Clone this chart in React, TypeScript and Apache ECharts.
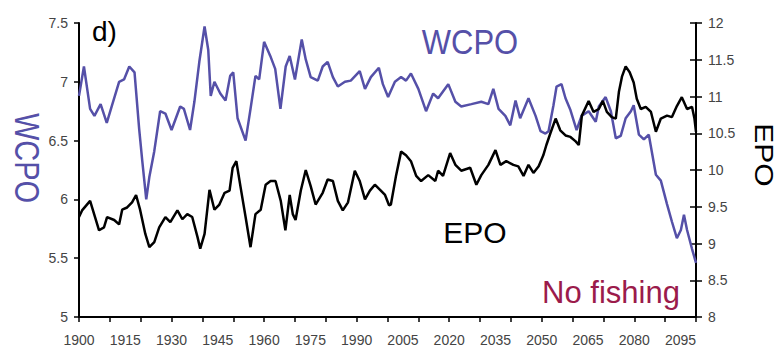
import React, { useEffect, useRef } from "react";
import * as echarts from "echarts";

// WCPO (left axis) — years and values
const wcpoYears = [
  1900, 1901.6, 1903.6, 1905, 1907, 1909, 1910.7, 1913, 1914.6, 1916.3, 1918, 1919.5, 1920.5, 1921.8,
  1922.8, 1924.4, 1926.3, 1928, 1930, 1932.8, 1934, 1936, 1937.4, 1939, 1940.7, 1941.9, 1942.7, 1943.9,
  1945.8, 1947.5, 1949, 1950, 1951.4, 1954, 1955.6, 1957.2, 1958.4, 1960, 1962, 1963.6, 1965.3, 1967,
  1968.3, 1970, 1972.2, 1973.5, 1975.1, 1977.4, 1979, 1980.6, 1982.3, 1983.9, 1986.2, 1988.1, 1991,
  1992.7, 1994.6, 1997.2, 1998.5, 2000.2, 2002.4, 2004.4, 2006, 2007.6, 2010, 2012.5, 2014.8, 2016.4,
  2019.7, 2022, 2023.9, 2027.2, 2030.4, 2032.7, 2034.3, 2036, 2038.2, 2039.8, 2041.5, 2043, 2045.7,
  2048, 2049.6, 2051.2, 2052.2, 2053.8, 2054.8, 2056.4, 2057.7, 2059.3, 2061.3, 2062.9, 2065.2, 2067.5,
  2068.5, 2070.7, 2072.4, 2074, 2075.6, 2077.2, 2078.9, 2079.8, 2081.5, 2083.1, 2084.7, 2087, 2088.6,
  2090.6, 2092.2, 2093.8, 2095.1, 2096.1, 2097.1, 2098.7, 2100,
];
const wcpoValues = [
  6.88, 7.13, 6.77, 6.71, 6.81, 6.65, 6.8, 7.0, 7.02, 7.13, 7.08, 6.6, 6.33, 6.0,
  6.19, 6.41, 6.75, 6.73, 6.59, 6.79, 6.77, 6.59, 6.83, 7.17, 7.47, 7.27, 6.88, 7.0,
  6.9, 6.84, 7.05, 7.08, 6.69, 6.5, 6.77, 7.05, 7.02, 7.34, 7.22, 7.11, 6.77, 7.13,
  7.22, 7.02, 7.36, 7.19, 7.04, 7.01, 7.13, 7.17, 7.04, 6.96, 7.0, 7.01, 7.09,
  6.94, 7.04, 7.12, 6.98, 6.87, 7.0, 7.04, 7.01, 7.07, 6.94, 6.75, 6.9, 6.86,
  6.98, 6.83, 6.79, 6.81, 6.83, 6.81, 6.94, 6.77, 6.71, 6.63, 6.84, 6.69, 6.86,
  6.71, 6.58, 6.56, 6.58, 6.8, 6.96, 6.98, 6.86, 6.76, 6.59, 6.71, 6.75, 6.66,
  6.79, 6.87, 6.75, 6.52, 6.54, 6.69, 6.75, 6.8, 6.55, 6.51, 6.55, 6.21, 6.16,
  5.96, 5.81, 5.67, 5.74, 5.87, 5.74, 5.58, 5.46,
];

// EPO (right axis)
const epoYears = [
  1900, 1901, 1903.6, 1905.2, 1906.5, 1908.1, 1909.1, 1911.4, 1913, 1914, 1915.6, 1917.2, 1918.5, 1919.8,
  1921.5, 1922.8, 1924.4, 1926, 1928, 1929.6, 1931.9, 1933.5, 1935.1, 1936.7, 1938.4, 1939.3, 1940.7,
  1942.3, 1943.9, 1945.5, 1947.2, 1948.8, 1949.8, 1951, 1952.4, 1954, 1955.6, 1957.2, 1958.9, 1960.5,
  1962.1, 1963.7, 1965.4, 1966.9, 1968.3, 1969.3, 1970.2, 1971.9, 1973.5, 1975.1, 1976.7, 1979, 1980.6,
  1982.3, 1983.9, 1985.5, 1987.2, 1989.4, 1991, 1992.7, 1994.3, 1995.9, 1997.6, 1999.2, 2000.5, 2001.1,
  2002.8, 2004.4, 2006, 2007.6, 2009.3, 2010.9, 2013.2, 2015.5, 2016.4, 2018, 2020.3, 2022, 2023.9,
  2026.8, 2028.8, 2030.4, 2032.7, 2035, 2036.6, 2038.5, 2040.8, 2042.4, 2044.1, 2045.7, 2047.3, 2049,
  2050.5, 2051.5, 2052.8, 2054.5, 2056, 2057.7, 2059.3, 2061, 2062, 2063, 2065.2, 2066.8, 2068.5,
  2069.8, 2071.1, 2072.7, 2074, 2075, 2076, 2077.2, 2078.5, 2079.8, 2080.8, 2082.1, 2083.7, 2085.4,
  2087, 2088.6, 2090.6, 2092.2, 2093.8, 2095.4, 2097.1, 2098.7, 2099.5, 2100,
];
const epoValues = [
  9.36, 9.45, 9.58, 9.36, 9.18, 9.22, 9.36, 9.32, 9.26, 9.46, 9.49, 9.56, 9.66, 9.46,
  9.13, 8.95, 9.02, 9.22, 9.36, 9.29, 9.45, 9.33, 9.4, 9.36, 9.09, 8.93, 9.13,
  9.73, 9.46, 9.53, 9.69, 9.72, 10.03, 10.12, 9.76, 9.36, 8.95, 9.4, 9.46, 9.8,
  9.85, 9.85, 9.58, 9.18, 9.66, 9.4, 9.32, 9.72, 10.0, 9.78, 9.53, 9.69, 9.87,
  9.85, 9.58, 9.45, 9.56, 9.99, 9.85, 9.6, 9.72, 9.8, 9.73, 9.66, 9.52, 9.53,
  9.93, 10.25, 10.2, 10.12, 9.92, 9.85, 9.93, 9.85, 9.99, 9.92, 10.23, 10.07, 9.99,
  10.03, 9.8, 9.93, 10.07, 10.27, 10.07, 10.12, 10.07, 10.05, 9.92, 10.07, 9.96, 10.05,
  10.2, 10.34, 10.5, 10.7, 10.54, 10.47, 10.45, 10.39, 10.34, 10.74, 10.94, 10.79, 10.83,
  10.94, 10.79, 10.72, 10.7, 11.06, 11.27, 11.41, 11.33, 11.19, 10.97, 10.83, 10.86, 10.79,
  10.52, 10.7, 10.74, 10.72, 10.87, 10.99, 10.83, 10.86, 10.7, 10.52,
];

const xLabelYears = [1900, 1915, 1930, 1945, 1960, 1975, 1990, 2005, 2020, 2035, 2050, 2065, 2080, 2095];

const FONT = '"Liberation Sans", Arial, sans-serif';
const BLUE = "#5550a8";
const LABEL = "#444";

export default function App() {
  const ref = useRef<HTMLDivElement>(null);
  useEffect(() => {
    if (!ref.current) return;
    const chart = echarts.init(ref.current, undefined, { renderer: "svg" });
    const wcpo = wcpoYears.map((y, i) => [y, wcpoValues[i]]);
    const epo = epoYears.map((y, i) => [y, epoValues[i]]);
    const axisLine = { show: true, lineStyle: { color: "#000", width: 2 } };
    chart.setOption({
      animation: false,
      backgroundColor: "#ffffff",
      textStyle: { fontFamily: FONT },
      grid: { left: 79, right: 87, top: 23, bottom: 25, containLabel: false },
      xAxis: [
        {
          type: "value",
          min: 1900,
          max: 2100,
          interval: 5,
          position: "bottom",
          axisLine,
          axisTick: { show: false },
          splitLine: { show: false },
          axisLabel: {
            margin: 16,
            fontSize: 14,
            color: LABEL,
            fontFamily: FONT,
            showMaxLabel: false,
            formatter: (v: number) => (xLabelYears.includes(Math.round(v)) ? String(Math.round(v)) : ""),
          },
        },
        {
          type: "value",
          min: 1900,
          max: 2100,
          interval: 10,
          position: "bottom",
          offset: 0,
          axisLine: { show: false },
          axisTick: { show: true, length: 5, lineStyle: { color: "#000", width: 1.5 } },
          axisLabel: { show: false },
          splitLine: { show: false },
        },
      ],
      yAxis: [
        {
          type: "value",
          min: 5,
          max: 7.5,
          interval: 0.5,
          position: "left",
          axisLine,
          axisTick: { show: true, length: 5, lineStyle: { color: "#000", width: 1.5 } },
          splitLine: { show: false },
          axisLabel: { margin: 11, fontSize: 14, color: LABEL, fontFamily: FONT },
        },
        {
          type: "value",
          min: 8,
          max: 12,
          interval: 0.5,
          position: "right",
          axisLine,
          axisTick: { show: true, length: 6, lineStyle: { color: "#000", width: 1.5 } },
          splitLine: { show: false },
          axisLabel: { margin: 12, fontSize: 14, color: LABEL, fontFamily: FONT },
        },
        {
          type: "value",
          min: 8,
          max: 12,
          interval: 0.5,
          position: "right",
          offset: 0,
          axisLine: { show: false },
          axisTick: { show: true, inside: true, length: 6, lineStyle: { color: "#000", width: 1.5 } },
          splitLine: { show: false },
          axisLabel: { show: false },
        },
      ],
      series: [
        {
          name: "WCPO",
          type: "line",
          xAxisIndex: 0,
          yAxisIndex: 0,
          data: wcpo,
          showSymbol: false,
          lineStyle: { color: BLUE, width: 2.5 },
          z: 3,
        },
        {
          name: "EPO",
          type: "line",
          xAxisIndex: 0,
          yAxisIndex: 1,
          data: epo,
          showSymbol: false,
          lineStyle: { color: "#000", width: 2.5 },
          z: 4,
        },
      ],
      graphic: [
        {
          type: "text",
          x: 92,
          y: 31,
          style: { text: "d)", fill: "#000", fontSize: 28, fontFamily: FONT, align: "left", verticalAlign: "middle" },
        },
        {
          type: "text",
          x: 470,
          y: 42,
          scaleY: 1.12,
          style: { text: "WCPO", fill: BLUE, fontSize: 31, fontFamily: FONT, align: "center", verticalAlign: "middle" },
        },
        {
          type: "text",
          x: 475,
          y: 232,
          style: { text: "EPO", fill: "#000", fontSize: 30, fontFamily: FONT, align: "center", verticalAlign: "middle" },
        },
        {
          type: "text",
          x: 611,
          y: 292,
          style: { text: "No fishing", fill: "#9b1b4b", fontSize: 31, fontFamily: FONT, align: "center", verticalAlign: "middle" },
        },
        {
          type: "text",
          x: 27,
          y: 158,
          rotation: -Math.PI / 2,
          scaleY: 1.2,
          style: { text: "WCPO", fill: BLUE, fontSize: 29, fontFamily: FONT, align: "center", verticalAlign: "middle" },
        },
        {
          type: "text",
          x: 764,
          y: 155,
          rotation: -Math.PI / 2,
          scaleY: 0.85,
          style: { text: "EPO", fill: "#000", fontSize: 30, fontFamily: FONT, align: "center", verticalAlign: "middle" },
        },
      ],
    });
    return () => chart.dispose();
  }, []);
  return <div ref={ref} style={{ position: "fixed", left: 0, top: 0, width: 783, height: 347 }} />;
}
